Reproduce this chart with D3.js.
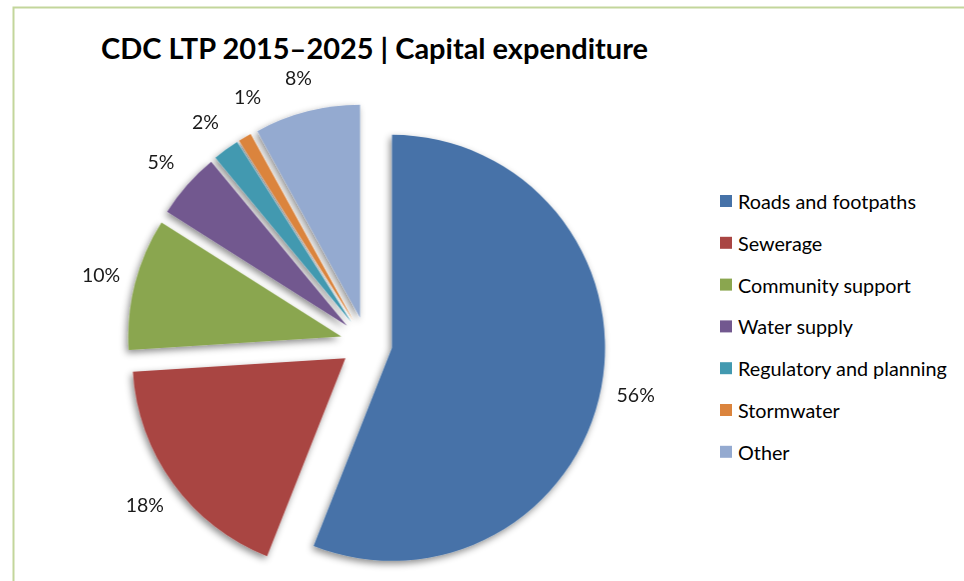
<!DOCTYPE html>
<html>
<head>
<meta charset="utf-8">
<script src="https://cdn.jsdelivr.net/npm/d3@7/dist/d3.min.js"></script>
<style>
  html, body { margin: 0; padding: 0; background: #fff; }
  svg { display: block; }
</style>
</head>
<body>
<svg id="chart" width="964" height="581"></svg>
<script>
// Capital expenditure split, percent of total
const categories = ["Roads and footpaths", "Sewerage", "Community support", "Water supply",
                    "Regulatory and planning", "Stormwater", "Other"];
const shares = [56, 18, 10, 5, 2, 1, 8];
const colors = ["#4672a8", "#a94543", "#8aa64f", "#72588f", "#4299b0", "#db843d", "#94aad0"];
const titleText = "CDC LTP 2015\u20132025 | Capital expenditure";

const W = 964, H = 581;
const svg = d3.select("#chart");
const font = "Lato, 'Open Sans', sans-serif";

// frame lines
svg.append("path")
  .attr("d", `M13.5,${H} V7.5 H${W}`)
  .attr("fill", "none")
  .attr("stroke", "#c3d69b")
  .attr("stroke-width", 2);

// title
svg.append("text")
  .attr("x", 101).attr("y", 59)
  .attr("font-family", font)
  .attr("font-weight", 700)
  .attr("font-size", 28.5)
  .attr("textLength", 547)
  .attr("lengthAdjust", "spacingAndGlyphs")
  .attr("fill", "#000")
  .text(titleText);

// drop shadow for the slices
const defs = svg.append("defs");
const f = defs.append("filter").attr("id", "shadow")
  .attr("x", "-20%").attr("y", "-20%").attr("width", "140%").attr("height", "140%");
f.append("feDropShadow")
  .attr("dx", -2).attr("dy", 3).attr("stdDeviation", 3.5)
  .attr("flood-color", "#000").attr("flood-opacity", 0.45);

const cx = 366.5, cy = 343, R = 213, explode = 26, labelGap = 35;

const pie = d3.pie().sort(null).value(d => d).startAngle(0).endAngle(2 * Math.PI);
const arcs = pie(shares);
const arc = d3.arc().innerRadius(0).outerRadius(R);
const color = d3.scaleOrdinal().domain(categories).range(colors);

const g = svg.append("g").attr("transform", `translate(${cx},${cy})`);
const slices = g.append("g").attr("filter", "url(#shadow)");

const midAngle = a => (a.startAngle + a.endAngle) / 2;
const unit = m => [Math.sin(m), -Math.cos(m)];

slices.selectAll("path")
  .data(arcs)
  .join("path")
  .attr("d", arc)
  .attr("fill", (d, i) => color(categories[i]))
  .attr("transform", d => {
    const [ux, uy] = unit(midAngle(d));
    return `translate(${ux * explode},${uy * explode})`;
  });

// percentage labels outside each slice; crowded neighbours are pushed clockwise
const labelFont = 19.5;
const labels = g.selectAll("text.pct")
  .data(arcs)
  .join("text")
  .attr("class", "pct")
  .attr("font-family", font)
  .attr("font-size", labelFont)
  .attr("fill", "#1a1a1a")
  .attr("text-anchor", "middle")
  .attr("dominant-baseline", "central")
  .text(d => d.data + "%");

const boxes = [];
const padX = 14, padY = 8;
labels.each(function (d) {
  const bb = this.getBBox();
  const hw = bb.width / 2, hh = bb.height / 2 * 0.8;
  const rr = explode + R + labelGap;
  const place = m => {
    const [ux, uy] = unit(m);
    return [ux * rr, uy * rr];
  };
  let m = midAngle(d);
  let [x, y] = place(m);
  const hits = () => boxes.some(b =>
    Math.abs(b.x - x) < b.hw + hw + padX && Math.abs(b.y - y) < b.hh + hh + padY);
  let guard = 0;
  while (hits() && guard++ < 200) {
    m += 0.005;
    [x, y] = place(m);
  }
  boxes.push({ x, y, hw, hh });
  d3.select(this).attr("x", x).attr("y", y);
});

// legend
const legend = svg.append("g").attr("transform", "translate(720,201)");
const rowStep = 41.8;
const rows = legend.selectAll("g")
  .data(categories)
  .join("g")
  .attr("transform", (d, i) => `translate(0,${i * rowStep})`);
rows.append("rect")
  .attr("x", 0).attr("y", -6)
  .attr("width", 12).attr("height", 12)
  .attr("fill", d => color(d));
rows.append("text")
  .attr("x", 18).attr("y", 0)
  .attr("dominant-baseline", "central")
  .attr("font-family", font)
  .attr("font-size", 19.8)
  .attr("fill", "#000")
  .text(d => d);
</script>
</body>
</html>
